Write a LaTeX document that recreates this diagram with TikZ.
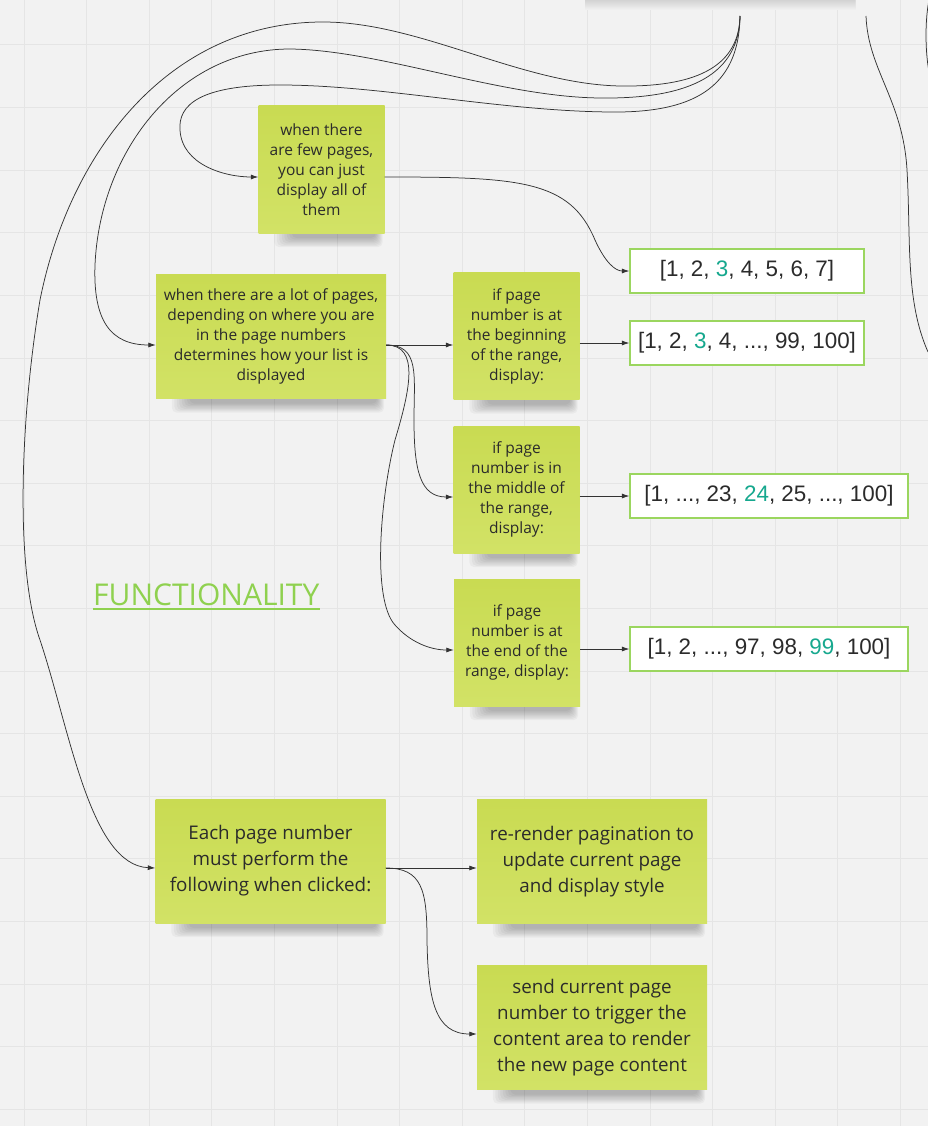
\documentclass[tikz,border=0pt]{standalone}
\usepackage{fontspec}
\usepackage{xcolor}
\usepackage{tikz}
\usetikzlibrary{arrows.meta,backgrounds}
\setmainfont{Open Sans}
\newfontfamily\listfont{Liberation Sans}

\definecolor{canvas}{HTML}{F2F2F2}
\definecolor{gridgray}{HTML}{E5E5E5}
\definecolor{notetop}{HTML}{C9DB52}
\definecolor{notebottom}{HTML}{D2E266}
\definecolor{boxgreen}{HTML}{9BD65F}
\definecolor{pagecur}{HTML}{16A88E}
\definecolor{titlegreen}{HTML}{8FD14F}
\definecolor{wire}{HTML}{333333}
\definecolor{inktext}{HTML}{2B2B2B}

\newcommand{\curpage}[1]{\textcolor{pagecur}{#1}}
\newcommand{\noteshadow}[1]{%
  \foreach \k in {0,...,7}{
    \fill[black, opacity=.035, rounded corners=5pt]
      ([xshift={(16+2.5*\k)*1pt}, yshift=4pt]#1.south west) rectangle
      ([xshift={(-2-1*\k)*1pt}, yshift={(-14+1.3*\k)*1pt}]#1.south east);
  }}

\begin{document}
\begin{tikzpicture}[x=1pt, y=-1pt,
    note/.style={top color=notetop, bottom color=notebottom, inner sep=0pt, align=center, text=inktext, font=\fontsize{15.5}{20}\selectfont},
    smallnote/.style={note, minimum width=126pt, minimum height=127pt},
    widenote/.style={note, minimum width=230pt, minimum height=124pt},
    bignote/.style={widenote, font=\fontsize{18.8}{26}\selectfont},
    listbox/.style={draw=boxgreen, line width=1.3pt, fill=white, minimum height=44pt, inner sep=0pt, text=inktext, font=\listfont\fontsize{22.4}{26}\selectfont},
    link/.style={draw=wire, line width=0.75pt, -{Latex[length=7.5pt,width=5pt]}},
    wire/.style={draw=wire, line width=0.75pt}
]
\useasboundingbox (0,0) rectangle (928,1126);

% Nodes
\node[smallnote] (few) at (321.5,169.5) {when there\\are few pages,\\you can just\\display all of\\them};
\node[widenote] (lot) at (271,336.5) {when there are a lot of pages,\\depending on where you are\\in the page numbers\\determines how your list is\\displayed};
\node[smallnote] (beg) at (516.5,336) {if page\\number is at\\the beginning\\of the range,\\display:};
\node[smallnote] (mid) at (516.5,489.5) {if page\\number is in\\the middle of\\the range,\\display:};
\node[smallnote] (fin) at (517,642.5) {if page\\number is at\\the end of the\\range, display:};
\node[bignote] (each) at (270.5,861) {Each page number\\must perform the\\following when clicked:};
\node[bignote] (rerender) at (592,861.5) {re-render pagination to\\update current page\\and display style};
\node[bignote] (send) at (592,1027.5) {send current page\\number to trigger the\\content area to render\\the new page content};

\node[listbox, minimum width=234pt] (list1) at (747,271) {[1, 2, \curpage{3}, 4, 5, 6, 7]};
\node[listbox, minimum width=234pt] (list2) at (747,343) {[1, 2, \curpage{3}, 4, ..., 99, 100]};
\node[listbox, minimum width=278pt] (list3) at (769,496) {[1, ..., 23, \curpage{24}, 25, ..., 100]};
\node[listbox, minimum width=278pt] (list4) at (769,649) {[1, 2, ..., 97, 98, \curpage{99}, 100]};

\coordinate (hub) at (740,16);
\coordinate (hubR) at (866,16);
\coordinate (offR) at (928,352);

% Edges
\draw[link] (hub) .. controls (739,90) and (690,113) .. (610,112)
  .. controls (500,111) and (380,85) .. (280,85)
  .. controls (200,85) and (178,105) .. (180,130)
  .. controls (182,165) and (225,177) .. ([yshift=-7.5pt]few.west);
\draw[link] (hub) .. controls (739,80) and (680,99) .. (600,98)
  .. controls (500,97) and (380,50) .. (290,49)
  .. controls (180,49) and (100,150) .. (95,265)
  .. controls (93,320) and (110,345) .. ([yshift=-8.5pt]lot.west);
\draw[link] (hub) .. controls (739,70) and (690,87) .. (620,86)
  .. controls (520,84) and (420,22) .. (323,22)
  .. controls (170,22) and (70,150) .. (40,300)
  .. controls (20,420) and (15,570) .. (40,640)
  .. controls (70,730) and (90,865) .. ([yshift=-7pt]each.west);
\draw[wire] (hubR) .. controls (868,70) and (903,100) .. (907,170)
  .. controls (911,240) and (905,300) .. (offR);

\draw[link] ([yshift=-7.5pt]few.east) .. controls (520,177) and (570,180) .. (595,240)
  .. controls (605,262) and (615,271) .. (list1.west);

\draw[link] ([yshift=-8.5pt]lot.east) -- ([yshift=-9pt]beg.west);
\draw[link] ([yshift=-8.5pt]lot.east) .. controls (420,345) and (414,375) .. (414,420)
  .. controls (414,470) and (420,497) .. ([yshift=-7.5pt]mid.west);
\draw[link] ([yshift=-8.5pt]lot.east) .. controls (420,345) and (410,390) .. (395,440)
  .. controls (380,500) and (372,600) .. (395,625)
  .. controls (410,642) and (430,650) .. ([yshift=-7.5pt]fin.west);

\draw[link] ([yshift=-7pt]beg.east) -- (list2.west);
\draw[link] ([yshift=-6.5pt]mid.east) -- (list3.west);
\draw[link] ([yshift=-6.5pt]fin.east) -- (list4.west);

\draw[link] ([yshift=-7pt]each.east) -- ([yshift=-6.5pt]rerender.west);
\draw[link] ([yshift=-7pt]each.east) .. controls (422,868) and (427,890) .. (427,940)
  .. controls (428,1000) and (435,1034) .. ([yshift=-6.5pt]send.west);

% Labels
\node[anchor=base west, inner sep=0pt, text=titlegreen, font=\fontsize{30}{34}\selectfont] (title) at (93,605) {FUNCTIONALITY};
\draw[titlegreen, line width=2pt] ([yshift=-3.5pt]title.base west) -- ([yshift=-3.5pt]title.base east);

% Background, grid and shadows
\begin{scope}[on background layer]
  \fill[canvas] (0,0) rectangle (928,1126);
  \foreach \gx in {0,...,14}
    \draw[gridgray, line width=1pt] ({24+62.6*\gx},0) -- ({24+62.6*\gx},1126);
  \foreach \gy in {0,...,17}
    \draw[gridgray, line width=1pt] (0,{45+62.6*\gy}) -- (928,{45+62.6*\gy});
  \foreach \n in {few,lot,beg,mid,fin,each,rerender,send}
    \noteshadow{\n}
  % shadow of a note above the view
  \shade[top color=black!13!canvas, bottom color=canvas] (585,0) rectangle (855,10);
  \draw[wire, line width=0.75pt] (929,0) .. controls (925,20) and (925,50) .. (929,72);
\end{scope}

\end{tikzpicture}
\end{document}
